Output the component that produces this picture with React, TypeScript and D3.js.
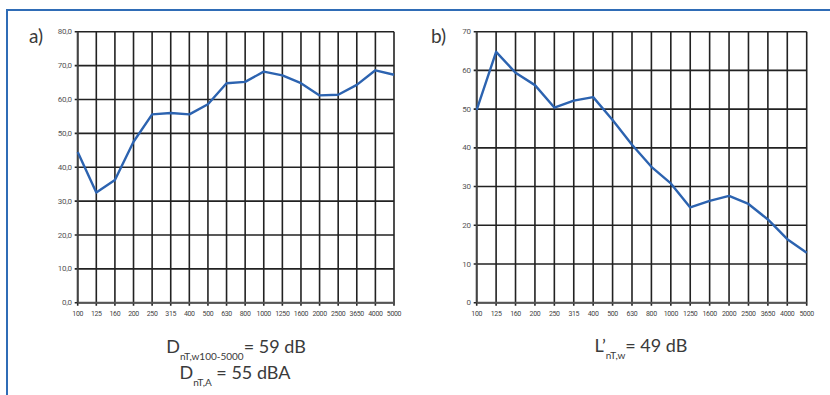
import React from "react";
import * as d3 from "d3";

const freqs = ["100","125","160","200","250","315","400","500","630","800","1000","1250","1600","2000","2500","3650","4000","5000"];
const seriesA = [44.5,32.5,36.2,47.5,55.6,56.0,55.6,58.6,64.8,65.2,68.2,67.1,64.8,61.2,61.4,64.3,68.6,67.3];
const seriesB = [49.8,64.8,59.4,56.2,50.4,52.2,53.1,47.2,40.8,35.1,30.8,24.6,26.3,27.6,25.5,21.5,16.4,12.9];
const ticksA = [0,10,20,30,40,50,60,70,80];
const ticksB = [0,10,20,30,40,50,60,70];

const LINE = "#2c63b0";
const GRID = "#222";
const LABEL = "#555";
const TICKFONT = "Roboto, 'Open Sans', sans-serif";
const MAINFONT = "Lato, 'Open Sans', sans-serif";

type PanelProps = {
  x0: number; x1: number; y0: number; y1: number;
  values: number[]; ymax: number; ticks: number[]; fmt: (v: number) => string;
};

function Panel({ x0, x1, y0, y1, values, ymax, ticks, fmt }: PanelProps) {
  const x = d3.scalePoint<string>().domain(freqs).range([x0, x1]);
  const y = d3.scaleLinear().domain([0, ymax]).range([y1, y0]);
  const line = d3.line<number>().x((_, i) => x(freqs[i]) as number).y(v => y(v));
  return (
    <g>
      {freqs.map(f => (
        <line key={"v" + f} x1={x(f)} x2={x(f)} y1={y0} y2={y1 + 3} stroke={GRID} strokeWidth={1.6} />
      ))}
      {ticks.map(t => (
        <line key={"h" + t} x1={x0 - 3} x2={x1} y1={y(t)} y2={y(t)} stroke={GRID} strokeWidth={1.6} />
      ))}
      <line x1={x0} x2={x1} y1={y1} y2={y1} stroke="#555" strokeWidth={2} />
      <line x1={x0} x2={x0} y1={y0} y2={y1} stroke="#444" strokeWidth={1.8} />
      {ticks.map(t => (
        <text key={"yl" + t} x={x0 - 6} y={y(t)} dy="0.32em" textAnchor="end" fontSize={8} fill={LABEL}
          fontFamily={TICKFONT} letterSpacing={-0.3}>{fmt(t)}</text>
      ))}
      {freqs.map(f => (
        <text key={"xl" + f} x={x(f)} y={y1 + 13} textAnchor="middle" fontSize={7} fill="#444"
          fontFamily={TICKFONT} letterSpacing={-0.35}>{f}</text>
      ))}
      <path d={line(values) || ""} fill="none" stroke={LINE} strokeWidth={2.4} strokeLinejoin="round" />
    </g>
  );
}

export default function App() {
  const fmtA = (v: number) => d3.format(".1f")(v).replace(".", ",");
  const fmtB = (v: number) => String(v);
  return (
    <svg width={830} height={395} style={{ position: "absolute", left: 0, top: 0, background: "#fff" }}>
      <rect x={7} y={10} width={900} height={500} fill="none" stroke="#2f6cb6" strokeWidth={2} />
      <text x={29} y={43} fontSize={19} fill="#3a3a3a" fontFamily={MAINFONT}>a)</text>
      <text x={431} y={43} fontSize={19} fill="#3a3a3a" fontFamily={MAINFONT}>b)</text>
      <Panel x0={77.7} x1={394} y0={31.7} y1={302.7} values={seriesA} ymax={80} ticks={ticksA} fmt={fmtA} />
      <Panel x0={476.7} x1={806.7} y0={31.7} y1={302.7} values={seriesB} ymax={70} ticks={ticksB} fmt={fmtB} />
      <g fontFamily={MAINFONT} fill="#3a3a3a">
        <text x={236} y={353} textAnchor="middle" fontSize={18}>
          <tspan>D</tspan>
          <tspan fontSize={10} dy={7}>nT,w100-5000</tspan>
          <tspan dy={-7}>= 59 dB</tspan>
        </text>
        <text x={235} y={379} textAnchor="middle" fontSize={18}>
          <tspan>D</tspan>
          <tspan fontSize={10} dy={7}>nT,A</tspan>
          <tspan dy={-7}> = 55 dBA</tspan>
        </text>
        <text x={641} y={352} textAnchor="middle" fontSize={18}>
          <tspan>L’</tspan>
          <tspan fontSize={10} dy={7}>nT,w</tspan>
          <tspan dy={-7}>= 49 dB</tspan>
        </text>
      </g>
    </svg>
  );
}
